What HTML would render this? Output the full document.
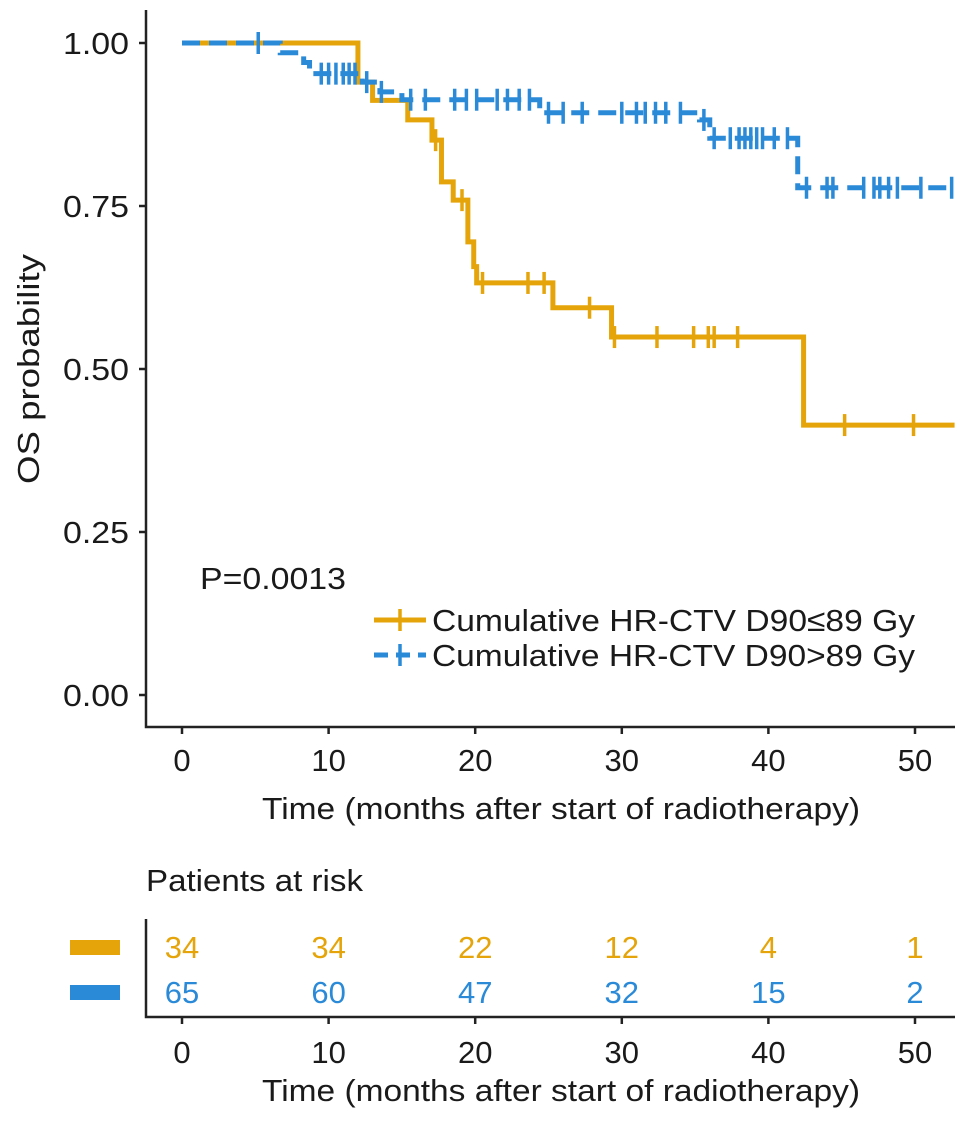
<!DOCTYPE html>
<html><head><meta charset="utf-8"><style>
body{margin:0;background:#fff;}
svg text{font-family:"Liberation Sans",sans-serif;fill:#1a1a1a;}
</style></head><body>
<svg width="969" height="1122" viewBox="0 0 969 1122">
<g id="plot"></g>
</svg>
<script>
const xTicks=[0,10,20,30,40,50];
const yTicks=[0,0.25,0.5,0.75,1.0];
const yTickLabels=["0.00","0.25","0.50","0.75","1.00"];
const lowTimes=[0,12,13,15.4,17.05,17.7,18.5,19.5,19.9,20.1,25.3,29.3,42.4,52.7];
const lowSurv=[1,0.94,0.912,0.882,0.851,0.787,0.759,0.695,0.657,0.632,0.594,0.549,0.414,0.414];
const lowCensor=[17.3,19.1,20.5,23.6,24.7,27.8,29.5,32.4,34.9,35.9,36.3,37.9,45.2,49.9];
const highTimes=[0,6.7,8.3,8.7,12.3,13.5,15,24.4,35.3,36,42,52.7];
const highSurv=[1,0.985,0.97,0.953,0.94,0.925,0.913,0.893,0.882,0.854,0.778,0.778];
const highCensor=[5.2,9.5,10,10.5,11,11.4,11.8,12.6,13.6,15.6,16.6,18.6,19.4,20.1,21.5,22.2,23,23.7,25,26,27.3,30,31,31.6,32.3,33,34,35.6,36.3,37.4,38,38.4,38.8,39.2,39.6,40.4,41.3,42.6,44,44.4,46.5,47.2,47.6,48.2,48.8,50.4,52.5];
const riskLow=[34,34,22,12,4,1];
const riskHigh=[65,60,47,32,15,2];
const X=t=>182+t*14.66, Y=s=>695-s*652;
const g=document.getElementById('plot');
const NS='http://www.w3.org/2000/svg';
const FS=31;
function mk(tag,attrs,parent){const e=document.createElementNS(NS,tag);for(const k in attrs)e.setAttribute(k,attrs[k]);(parent||g).appendChild(e);return e;}
function txt(x,y,s,size,anchor,color,len){const e=mk('text',{x:x,y:y,'font-size':size,'text-anchor':anchor||'start'});if(color)e.setAttribute('style','fill:'+color);if(len){e.setAttribute('textLength',len);e.setAttribute('lengthAdjust','spacingAndGlyphs');}e.textContent=s;return e;}
let a=mk('path',{d:'M146,10 V727 H955',fill:'none',stroke:'#222','stroke-width':2.5});


yTicks.forEach((v,i)=>{mk('line',{x1:139,x2:146,y1:Y(v),y2:Y(v),stroke:'#222','stroke-width':2.5});
 let t=txt(129,Y(v)+11,yTickLabels[i],FS,'end',null,66);
 
 });
xTicks.forEach(v=>{mk('line',{x1:X(v),x2:X(v),y1:727,y2:734,stroke:'#222','stroke-width':2.5});
 let t=txt(X(v),771,String(v),FS,'middle');
 
 });
let yt=txt(0,0,'OS probability',FS,'middle',null,230);
yt.setAttribute('transform','translate(39,369) rotate(-90)');


let xt=txt(561,819,'Time (months after start of radiotherapy)',FS,'middle',null,598);


function stepPath(T,S){let d='M'+X(T[0])+','+Y(S[0]);for(let i=1;i<T.length;i++){d+=' H'+X(T[i])+' V'+Y(S[i]);}return d;}
function survAt(T,S,t){let s=S[0];for(let i=0;i<T.length;i++){if(T[i]<=t)s=S[i];}return s;}
function series(T,S,C,color,dash,name){
 let p=mk('path',{d:stepPath(T,S),fill:'none',stroke:color,'stroke-width':5});
 if(dash)p.setAttribute('stroke-dasharray',dash);
 
 
 C.forEach(t=>{let y=Y(survAt(T,S,t));let c=mk('line',{x1:X(t),x2:X(t),y1:y-11,y2:y+11,stroke:color,'stroke-width':3.5});
  
  });
}
series(lowTimes,lowSurv,lowCensor,'#e5a50a',null,'low-dose');
series(highTimes,highSurv,highCensor,'#2a8ad8','18 9','high-dose');
let pv=txt(200,589,'P=0.0013',FS,'start',null,146);


[['#e5a50a',null,'Cumulative HR-CTV D90\u226489 Gy',620,'legend-entry-low'],['#2a8ad8','14 8','Cumulative HR-CTV D90>89 Gy',655,'legend-entry-high']].forEach(l=>{
 let gg=mk('g',{});
 
 
 let ln=mk('line',{x1:374,x2:426,y1:l[3],y2:l[3],stroke:l[0],'stroke-width':5},gg);
 if(l[1])ln.setAttribute('stroke-dasharray',l[1]);
 mk('line',{x1:400,x2:400,y1:l[3]-11,y2:l[3]+11,stroke:l[0],'stroke-width':3.5},gg);
 let t=document.createElementNS(NS,'text');t.setAttribute('x',432);t.setAttribute('y',l[3]+11);t.setAttribute('font-size',FS);t.setAttribute('textLength',483);t.setAttribute('lengthAdjust','spacingAndGlyphs');t.textContent=l[2];gg.appendChild(t);
});
let rt=txt(146,891,'Patients at risk',FS,'start',null,217);


let ra=mk('path',{d:'M146,919 V1017 H955',fill:'none',stroke:'#222','stroke-width':2.5});


let s1=mk('rect',{x:70,y:940,width:50,height:15,fill:'#e5a50a'});


let s2=mk('rect',{x:70,y:985,width:50,height:15,fill:'#2a8ad8'});


xTicks.forEach((v,i)=>{
 let a1=txt(X(v),958,String(riskLow[i]),FS,'middle','#e5a50a');
 
 
 let a2=txt(X(v),1003,String(riskHigh[i]),FS,'middle','#2a8ad8');
 
 
 mk('line',{x1:X(v),x2:X(v),y1:1017,y2:1024,stroke:'#222','stroke-width':2.5});
 let t=txt(X(v),1063,String(v),FS,'middle');
 
 
});
let rx=txt(561,1101,'Time (months after start of radiotherapy)',FS,'middle',null,598);


</script>
</body></html>
